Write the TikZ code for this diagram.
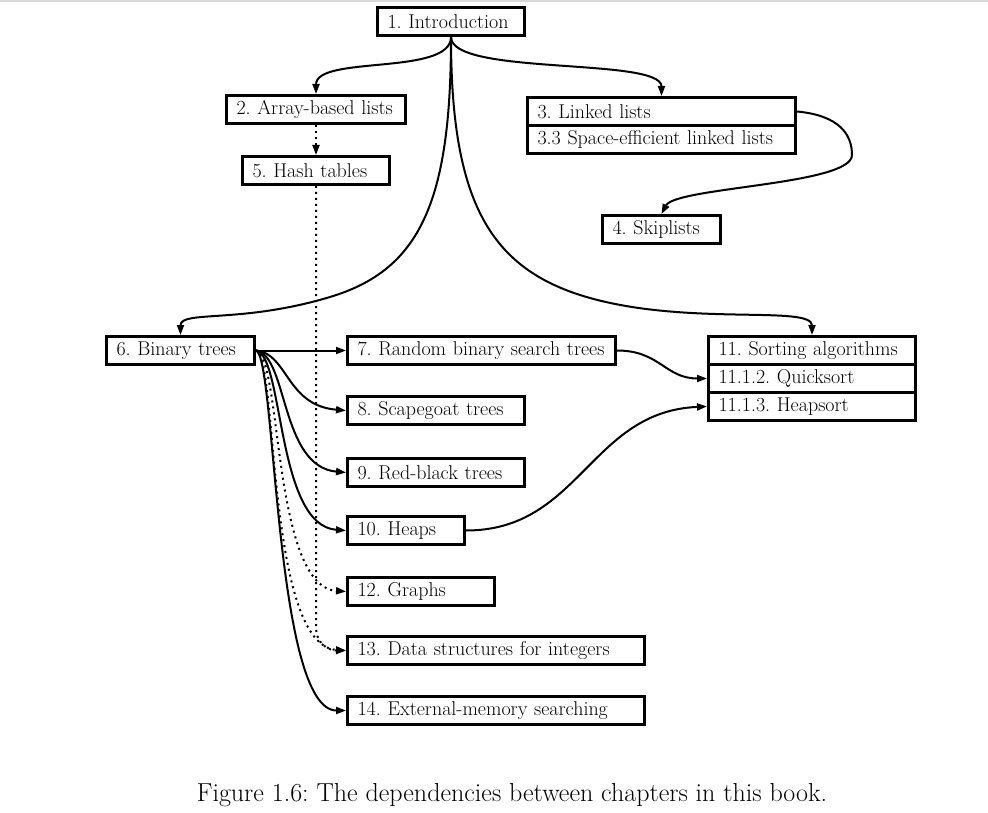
\documentclass[tikz,border=0pt]{standalone}
\usepackage{fontspec}
\usepackage{tikz}
\usetikzlibrary{arrows.meta,positioning}

\frenchspacing
\newcommand{\chapfont}{\fontsize{20}{24}\selectfont}

\begin{document}
\begin{tikzpicture}[x=1pt, y=-1pt,
  chap/.style={draw, line width=3pt, anchor=north west, minimum height=28pt,
    inner xsep=10pt, inner ysep=0pt, text width=#1, align=left, font=\chapfont},
  dep/.style={line width=2pt, -{Triangle[length=10pt,width=7pt]}},
  dotdep/.style={dep, dash pattern=on 2pt off 4pt}]

  \useasboundingbox (0,0) rectangle (988,813);
  \draw[black!15, line width=2pt] (0,1) -- (988,1);

  % chapters
  \node[chap=127pt] (intro) at (376,6) {1. Introduction};
  \node[chap=159pt] (arr) at (225,94) {2. Array-based lists};
  \node[chap=127pt] (hash) at (241,155) {5. Hash tables};
  \node[chap=248pt] (lists) at (526,96) {3. Linked lists};
  \node[chap=248pt] (space) at ([yshift=3pt]lists.south west) {3.3 Space-efficient linked lists};
  \node[chap=98pt] (skip) at (601,214) {4. Skiplists};
  \node[chap=128pt] (bt) at (105,335) {6. Binary trees};
  \node[chap=248pt] (rbst) at (346,335) {7. Random binary search trees};
  \node[chap=157pt] (scape) at (346,395) {8. Scapegoat trees};
  \node[chap=157pt] (rb) at (346,457) {9. Red-black trees};
  \node[chap=97pt] (heaps) at (346,515) {10. Heaps};
  \node[chap=127pt] (graphs) at (346,576) {12. Graphs};
  \node[chap=277pt] (ints) at (346,635) {13. Data structures for integers};
  \node[chap=277pt] (ext) at (346,695) {14. External-memory searching};
  \node[chap=187pt] (sort) at (707,335) {11. Sorting algorithms};
  \node[chap=187pt] (quick) at ([yshift=3pt]sort.south west) {11.1.2. Quicksort};
  \node[chap=187pt] (heap) at ([yshift=3pt]quick.south west) {11.1.3. Heapsort};

  % from the introduction
  \draw[dep] (intro.south) .. controls +(0,39) and +(0,-39) .. (arr.north);
  \draw[dep] (intro.south) .. controls +(0,39) and +(0,-39) .. (lists.north);
  \draw[dep] (intro.south) .. controls +(0,165) and +(90,-27) .. (330,297)
    .. controls +(-90,27) and +(0,-25) .. (bt.north);
  \draw[dep] (intro.south) .. controls +(0,165) and +(-100,-28) .. (590,298)
    .. controls +(100,28) and +(0,-30) .. (sort.north);

  % linked lists to skiplists
  \draw[dep] (lists.east) .. controls +(43,4) and +(0,-20) .. (852,155)
    .. controls +(0,30) and +(14,-27) .. (skip.north);

  % hashing
  \draw[dotdep] (arr.south) -- (hash.north);
  \draw[dotdep] (hash.south) -- (hash.south |- 0,628)
    .. controls +(0,15) and +(-18,0) .. (ints.west);

  % binary trees
  \draw[dep] (bt.east) -- (rbst.west);
  \draw[dep] (bt.east) .. controls +(32,3) and +(-60,-5) .. (scape.west);
  \draw[dep] (bt.east) .. controls +(32,5) and +(-66,-6) .. (rb.west);
  \draw[dep] (bt.east) .. controls +(28,5) and +(-70,-5) .. (heaps.west);
  \draw[dotdep] (bt.east) .. controls +(26,5) and +(-74,-5) .. (graphs.west);
  \draw[dotdep] (bt.east) .. controls +(22,5) and +(-80,-5) .. (ints.west);
  \draw[dep] (bt.east) .. controls +(20,5) and +(-72,0) .. (ext.west);

  % into sorting
  \draw[dep] (rbst.east) .. controls +(43,0) and +(-42,0) .. (quick.west);
  \draw[dep] (heaps.east) .. controls +(114,0) and +(-117,5) .. (heap.west);

  \node[font=\fontsize{26}{30}\selectfont] (cap) at (512,795)
    {Figure 1.6: The dependencies between chapters in this book.};
\end{tikzpicture}
\end{document}
